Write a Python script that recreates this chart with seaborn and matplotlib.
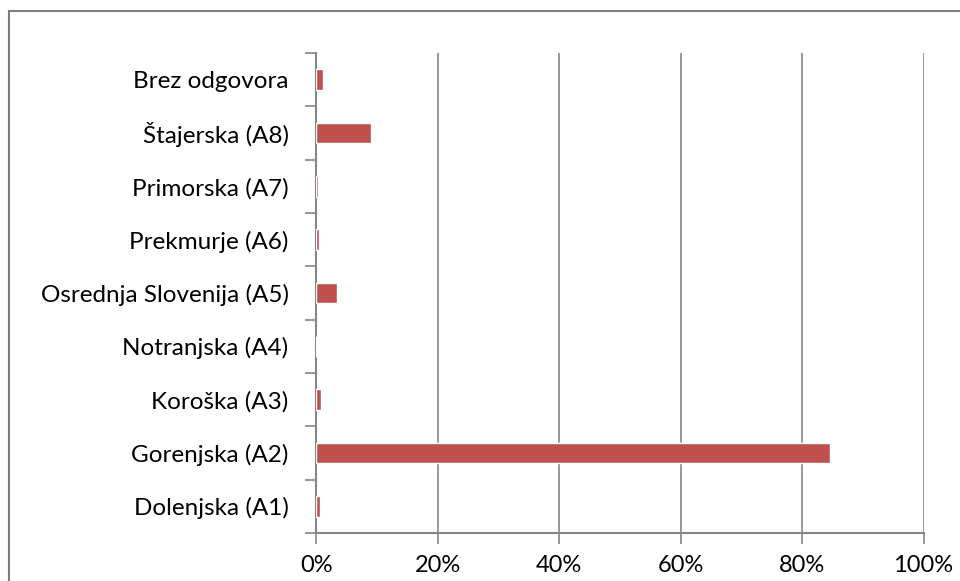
"""Horizontal bar chart of share of answers by region."""

import matplotlib

matplotlib.use("Agg")

import matplotlib.pyplot as plt
import numpy as np
import pandas as pd
import seaborn as sns
from matplotlib.patches import Rectangle
from matplotlib.ticker import FixedLocator, PercentFormatter

regions = [
    "Brez odgovora",
    "Štajerska (A8)",
    "Primorska (A7)",
    "Prekmurje (A6)",
    "Osrednja Slovenija (A5)",
    "Notranjska (A4)",
    "Koroška (A3)",
    "Gorenjska (A2)",
    "Dolenjska (A1)",
]
shares = [1.15, 9.0, 0.3, 0.5, 3.35, 0.0, 0.7, 84.6, 0.55]
x_ticks = [0, 20, 40, 60, 80, 100]

BAR_COLOR = "#C0504D"
GRID_COLOR = "#868686"

sns.set_theme(style="white")
plt.rcParams["font.family"] = ["Lato", "DejaVu Sans"]

df = pd.DataFrame({"region": regions, "share": shares})

fig = plt.figure(figsize=(9.6, 5.81), dpi=100)
ax = fig.add_axes([0.3295, 0.0826, 0.962 - 0.3295, 0.9088 - 0.0826])

sns.barplot(data=df, x="share", y="region", order=regions, color=BAR_COLOR,
            width=0.39, saturation=1, ax=ax, zorder=3)

ax.set_xlim(0, 100)
ax.set_ylim(len(regions) - 0.5, -0.5)
ax.xaxis.set_major_locator(FixedLocator(x_ticks))
ax.xaxis.set_major_formatter(PercentFormatter(decimals=0))
ax.grid(axis="x", color=GRID_COLOR, linewidth=1.2, zorder=0)
ax.grid(axis="y", visible=False)

# category boundaries carry the tick marks on the y axis
ax.yaxis.set_minor_locator(FixedLocator(np.arange(-0.5, len(regions), 1.0)))
ax.tick_params(axis="y", which="major", length=0, pad=20, labelsize=17.5, colors="black")
ax.tick_params(axis="y", which="minor", left=True, length=8, width=1.2, color=GRID_COLOR)
ax.tick_params(axis="x", which="major", bottom=True, length=8, width=1.2, color=GRID_COLOR,
               pad=8, labelsize=17, labelcolor="black")

for side in ("top", "right"):
    ax.spines[side].set_visible(False)
for side in ("left", "bottom"):
    ax.spines[side].set_color(GRID_COLOR)
    ax.spines[side].set_linewidth(1.5)

ax.set_xlabel("")
ax.set_ylabel("")

# chart frame, partly cut off at the right and bottom
fig.patches.append(Rectangle((8.5 / 960, -0.1), 1.2, 1.1 - 10.5 / 581,
                             transform=fig.transFigure, fill=False,
                             edgecolor="#808080", linewidth=1.5))

fig.savefig("out.png", dpi=100)
plt.close(fig)
